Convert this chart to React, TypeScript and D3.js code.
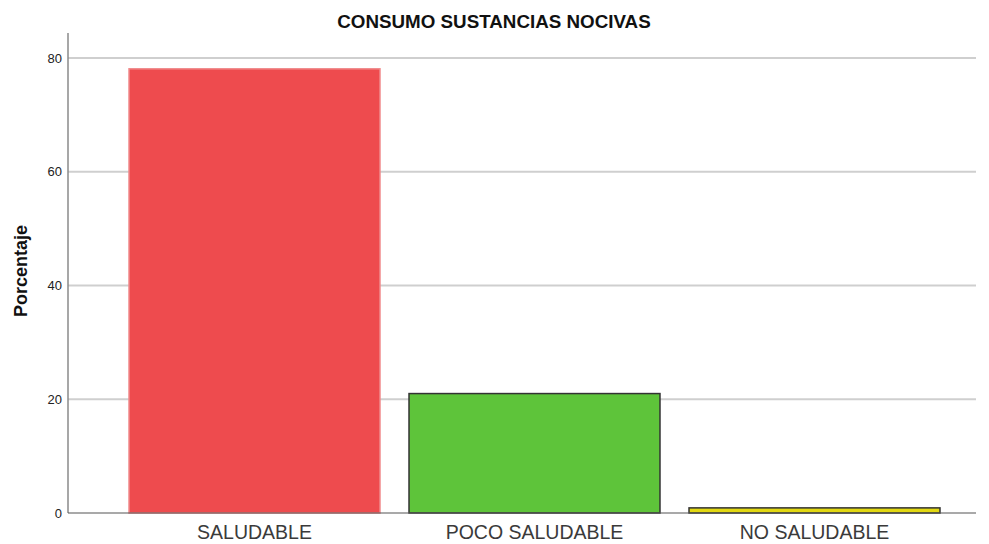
import React, { useEffect, useRef } from 'react';
import * as d3 from 'd3';

const categories = ['SALUDABLE', 'POCO SALUDABLE', 'NO SALUDABLE'];
const percentages = [78.1, 21.0, 0.9];
const barColors = ['#ee4b4e', '#5ec43a', '#e2d812'];
const barStrokes = ['#f08a8b', '#333333', '#333333'];
const yTicks = [0, 20, 40, 60, 80];

const App = () => {
  const ref = useRef<SVGSVGElement | null>(null);

  useEffect(() => {
    const width = 989;
    const height = 544;
    const left = 68;
    const right = 976;
    const bottom = 513;
    const font = 'Liberation Sans, Arial, sans-serif';

    const svg = d3.select(ref.current);
    svg.selectAll('*').remove();

    const x = d3
      .scaleBand<string>()
      .domain(categories)
      .range([114.5, 954.5])
      .paddingInner(0.1036)
      .paddingOuter(0.0518);
    const y = d3.scaleLinear().domain([0, 80]).range([bottom, 58]);

    svg.attr('width', width).attr('height', height);
    svg.append('rect').attr('width', width).attr('height', height).attr('fill', '#fff');

    // grid
    svg
      .selectAll('.grid')
      .data(yTicks.filter(d => d > 0))
      .enter()
      .append('line')
      .attr('x1', left)
      .attr('x2', right)
      .attr('y1', d => y(d))
      .attr('y2', d => y(d))
      .attr('stroke', '#cfcfcf')
      .attr('stroke-width', 2);

    // y tick labels
    svg
      .selectAll('.ytick')
      .data(yTicks)
      .enter()
      .append('text')
      .attr('x', left - 6)
      .attr('y', d => y(d))
      .attr('dy', '0.35em')
      .attr('text-anchor', 'end')
      .attr('font-family', font)
      .attr('font-size', 13)
      .attr('fill', '#222')
      .text(d => d);

    // bars
    svg
      .selectAll('.bar')
      .data(percentages)
      .enter()
      .append('rect')
      .attr('x', (d, i) => x(categories[i])!)
      .attr('y', d => y(d))
      .attr('width', x.bandwidth())
      .attr('height', d => bottom - y(d))
      .attr('fill', (d, i) => barColors[i])
      .attr('stroke', (d, i) => barStrokes[i])
      .attr('stroke-width', 1.5);

    // axes lines
    svg
      .append('line')
      .attr('x1', left)
      .attr('x2', left)
      .attr('y1', 33)
      .attr('y2', bottom)
      .attr('stroke', '#8a8a8a')
      .attr('stroke-width', 1.5);
    svg
      .append('line')
      .attr('x1', left)
      .attr('x2', right)
      .attr('y1', bottom)
      .attr('y2', bottom)
      .attr('stroke', '#555')
      .attr('stroke-width', 1.2);

    // category labels
    svg
      .selectAll('.xlab')
      .data(categories)
      .enter()
      .append('text')
      .attr('x', d => x(d)! + x.bandwidth() / 2)
      .attr('y', 539)
      .attr('text-anchor', 'middle')
      .attr('font-family', font)
      .attr('font-size', 19.5)
      .attr('fill', '#3a3a3a')
      .text(d => d);

    svg
      .append('text')
      .attr('x', 494)
      .attr('y', 28)
      .attr('text-anchor', 'middle')
      .attr('font-family', font)
      .attr('font-weight', 'bold')
      .attr('font-size', 18.8)
      .attr('fill', '#111')
      .text('CONSUMO SUSTANCIAS NOCIVAS');

    svg
      .append('text')
      .attr('transform', 'translate(27,271) rotate(-90)')
      .attr('text-anchor', 'middle')
      .attr('font-family', font)
      .attr('font-weight', 'bold')
      .attr('font-size', 18)
      .attr('fill', '#111')
      .text('Porcentaje');
  }, []);

  return <svg ref={ref} style={{ position: 'absolute', left: 0, top: 0 }} />;
};

export default App;
